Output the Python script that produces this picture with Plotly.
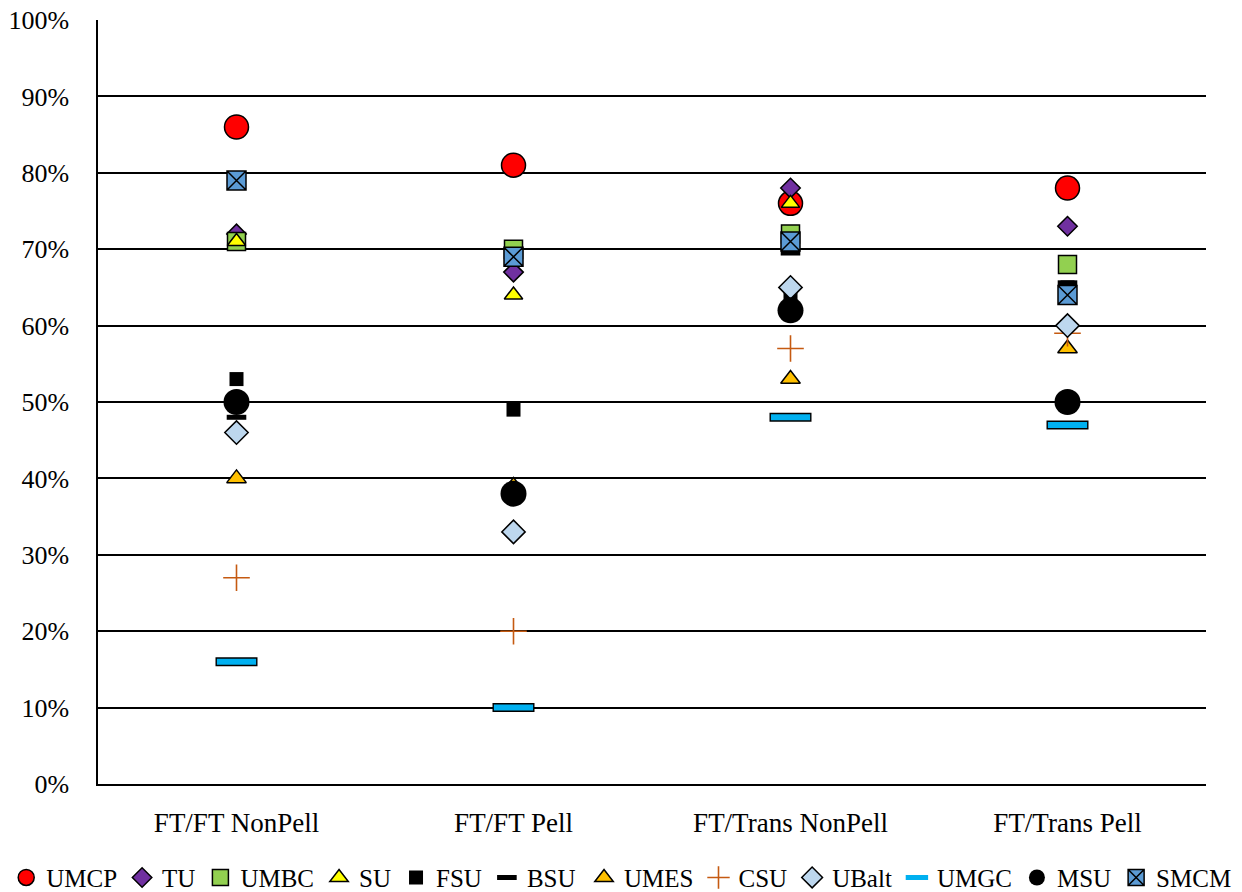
import plotly.graph_objects as go

categories = ["FT/FT NonPell", "FT/FT Pell", "FT/Trans NonPell", "FT/Trans Pell"]

UMCP = [86, 81, 76, 78]
TU = [72, 67, 78, 73]
UMBC = [71, 70, 72, 68]
SU = [71, 64, 76, 50]
FSU = [53, 49, 64, 65]
BSU = [48, 38, 69.5, 65.6]
UMES = [40, 39, 53, 57]
CSU = [27, 20, 57, 59]
UBalt = [46, 33, 65, 60]
UMGC = [16, 10, 48, 47]
MSU = [50, 38, 62, 50]
SMCM = [79, 69, 71, 64]

FONT = "Liberation Serif"

fig = go.Figure()

def add(name, y, symbol, size, color, lcolor="black", lw=1.5, showlegend=True,
        group=None, legend="legend"):
    fig.add_trace(go.Scatter(
        x=categories, y=y, mode="markers", name=name,
        legendgroup=group or name, showlegend=showlegend, legend=legend,
        marker=dict(symbol=symbol, size=size, color=color,
                    line=dict(color=lcolor, width=lw)),
    ))

add("UMCP", UMCP, "circle", 24, "#FF0000")
add("TU", TU, "diamond", 15, "#7030A0")
add("UMBC", UMBC, "square", 18, "#92D050")
add("SU", SU, "triangle-up", 16, "#FFFF00")
add("FSU", FSU, "square", 14, "#000000", lw=0)
add("BSU", BSU, "line-ew", 14, "#000000", lcolor="#000000", lw=5)
add("UMES", UMES, "triangle-up", 17, "#FFC000", legend="legend2")
add("CSU", CSU, "cross-thin", 19, "#C55A11", lcolor="#C55A11", lw=1.6, legend="legend2")
add("UBalt", UBalt, "diamond", 18, "#BDD7EE", legend="legend2")
add("UMGC", UMGC, "line-ew", 30, "#000000", lcolor="#000000", lw=9, showlegend=False,
    group="UMGC", legend="legend2")
add("UMGC", UMGC, "line-ew", 28, "#00B0F0", lcolor="#00B0F0", lw=6, group="UMGC",
    legend="legend2")
add("MSU", MSU, "circle", 26, "#000000", lw=0, legend="legend2")
add("SMCM", SMCM, "square-x", 19, "#5B9BD5", lcolor="black", lw=1.5, legend="legend2")

fig.update_layout(
    width=1242, height=892,
    margin=dict(l=98, r=36, t=20, b=108, autoexpand=False),
    paper_bgcolor="white", plot_bgcolor="white",
    font=dict(family=FONT, size=26, color="black"),
    showlegend=True,
    legend=dict(orientation="h", xref="container", yref="container",
                x=0.005, xanchor="left", y=0.016, yanchor="middle",
                itemwidth=30, tracegroupgap=0, bgcolor="rgba(0,0,0,0)"),
    legend2=dict(orientation="h", xref="container", yref="container",
                 x=0.996, xanchor="right", y=0.016, yanchor="middle",
                 itemwidth=30, tracegroupgap=0, bgcolor="rgba(0,0,0,0)"),
    xaxis=dict(type="category", range=[-0.5, 3.5], showgrid=False,
               showline=True, linecolor="black", linewidth=1.5,
               ticks="", tickfont=dict(family=FONT, size=27), ticklabelstandoff=14,
               zeroline=False),
    yaxis=dict(range=[0, 100], dtick=10, ticksuffix="%",
               showgrid=True, gridcolor="black", gridwidth=1.5,
               showline=True, linecolor="black", linewidth=1.5,
               ticks="", tickfont=dict(family=FONT, size=26), ticklabelstandoff=22,
               zeroline=False),
)
fig.update_layout(legend_font_family=FONT, legend_font_size=25, legend_font_color="black",
                  legend2_font_family=FONT, legend2_font_size=25, legend2_font_color="black")

fig.write_html("out.html")
